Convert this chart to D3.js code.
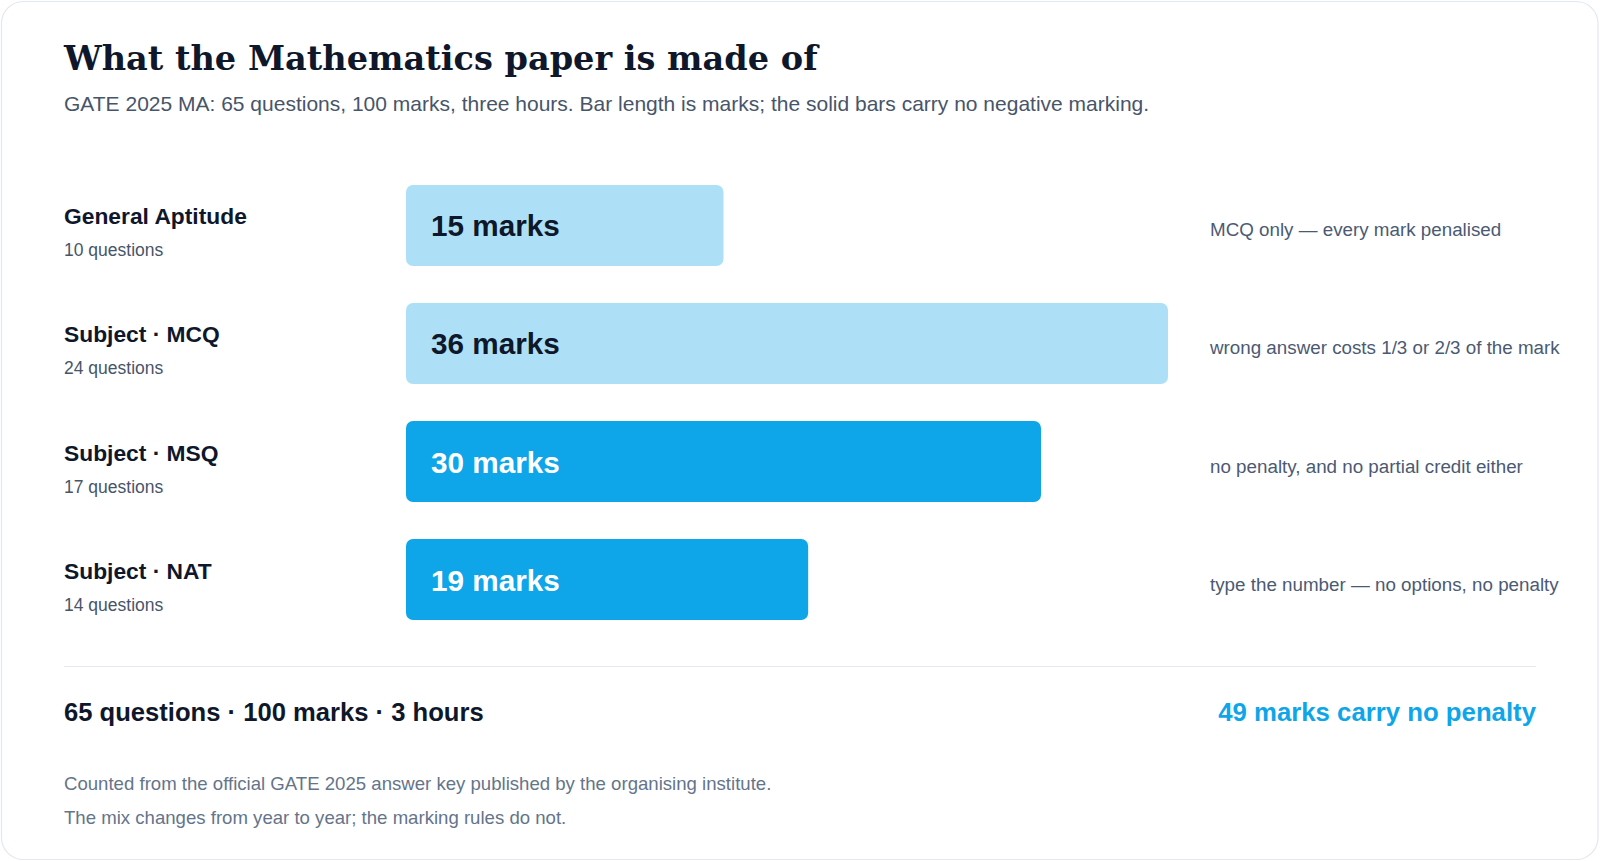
<!DOCTYPE html>
<html>
<head>
<meta charset="utf-8">
<script src="https://cdn.jsdelivr.net/npm/d3@7"></script>
<style>
  html, body { margin: 0; padding: 0; background: #ffffff; }
  svg { display: block; }
</style>
</head>
<body>
<script>
// ---- data ----
const categories = ["General Aptitude", "Subject \u00b7 MCQ", "Subject \u00b7 MSQ", "Subject \u00b7 NAT"];
const questions = [10, 24, 17, 14];
const marks = [15, 36, 30, 19];
const negativeMarking = [true, true, false, false];
const notes = [
  "MCQ only \u2014 every mark penalised",
  "wrong answer costs 1/3 or 2/3 of the mark",
  "no penalty, and no partial credit either",
  "type the number \u2014 no options, no penalty"
];
const hours = 3;
const titleText = "What the Mathematics paper is made of";
const subtitleText = "GATE 2025 MA: 65 questions, 100 marks, three hours. Bar length is marks; the solid bars carry no negative marking.";
const footnotes = [
  "Counted from the official GATE 2025 answer key published by the organising institute.",
  "The mix changes from year to year; the marking rules do not."
];

const rows = categories.map((c, i) => ({
  name: c, q: questions[i], m: marks[i], neg: negativeMarking[i], note: notes[i]
}));

const W = 1600, H = 861;
const SANS = "'Liberation Sans', Arial, Helvetica, sans-serif";
const SERIF = "'DejaVu Serif', Georgia, serif";
const INK = "#0f172a", MUTED = "#475569", SOFT = "#64748b", ACCENT = "#0ea5e9";

const svg = d3.select("body").append("svg").attr("width", W).attr("height", H);

// card
svg.append("rect")
  .attr("x", 1.5).attr("y", 1.5).attr("width", W - 3.5).attr("height", H - 3)
  .attr("rx", 22).attr("fill", "#ffffff").attr("stroke", "#e2e8f0").attr("stroke-width", 1.2);

// title
const title = svg.append("text")
  .attr("x", 64).attr("y", 70)
  .attr("font-family", SERIF).attr("font-weight", 700).attr("font-size", 34)
  .attr("fill", INK).text(titleText);
const tw = title.node().getComputedTextLength();
if (tw > 0) title.attr("font-size", 34 * 754 / tw);

svg.append("text")
  .attr("x", 64).attr("y", 111)
  .attr("font-family", SANS).attr("font-size", 21)
  .attr("fill", MUTED).text(subtitleText);

// scales
const x = d3.scaleLinear().domain([0, d3.max(marks)]).range([406, 1168]);
const y = d3.scaleBand().domain(categories).range([185, 620]).paddingInner(0.3136).paddingOuter(0);

const g = svg.append("g");
const row = g.selectAll("g.row").data(rows).join("g").attr("class", "row");

row.append("rect")
  .attr("x", x(0))
  .attr("y", d => y(d.name))
  .attr("width", d => x(d.m) - x(0))
  .attr("height", y.bandwidth())
  .attr("rx", 7)
  .attr("fill", ACCENT)
  .attr("fill-opacity", d => d.neg ? 0.34 : 1);

row.append("text")
  .attr("x", x(0) + 25)
  .attr("y", d => y(d.name) + y.bandwidth() / 2 + 11)
  .attr("font-family", SANS).attr("font-weight", 700).attr("font-size", 29.7)
  .attr("fill", d => d.neg ? INK : "#ffffff")
  .text(d => `${d.m} marks`);

row.append("text")
  .attr("x", 64)
  .attr("y", d => y(d.name) + y.bandwidth() / 2 - 1)
  .attr("font-family", SANS).attr("font-weight", 700).attr("font-size", 22.8)
  .attr("fill", INK)
  .text(d => d.name);

row.append("text")
  .attr("x", 64)
  .attr("y", d => y(d.name) + y.bandwidth() / 2 + 31)
  .attr("font-family", SANS).attr("font-size", 17.5)
  .attr("fill", MUTED)
  .text(d => `${d.q} questions`);

row.append("text")
  .attr("x", 1210)
  .attr("y", d => y(d.name) + y.bandwidth() / 2 + 11)
  .attr("font-family", SANS).attr("font-size", 18.8)
  .attr("fill", "#4b5a73")
  .text(d => d.note);

// separator
svg.append("line")
  .attr("x1", 64).attr("x2", 1536).attr("y1", 666.5).attr("y2", 666.5)
  .attr("stroke", "#e2e8f0").attr("stroke-width", 1.2);

// totals
const totalQ = d3.sum(questions), totalM = d3.sum(marks);
const freeM = d3.sum(rows.filter(r => !r.neg), r => r.m);

svg.append("text")
  .attr("x", 64).attr("y", 720.5)
  .attr("font-family", SANS).attr("font-weight", 700).attr("font-size", 25.6)
  .attr("fill", INK)
  .text(`${totalQ} questions \u00b7 ${totalM} marks \u00b7 ${hours} hours`);

svg.append("text")
  .attr("x", 1536).attr("y", 720.5).attr("text-anchor", "end")
  .attr("font-family", SANS).attr("font-weight", 700).attr("font-size", 25.75)
  .attr("fill", ACCENT)
  .text(`${freeM} marks carry no penalty`);

svg.selectAll("text.foot").data(footnotes).join("text").attr("class", "foot")
  .attr("x", 64).attr("y", (d, i) => 790 + i * 33.5)
  .attr("font-family", SANS).attr("font-size", 18.6)
  .attr("fill", SOFT)
  .text(d => d);
</script>
</body>
</html>
